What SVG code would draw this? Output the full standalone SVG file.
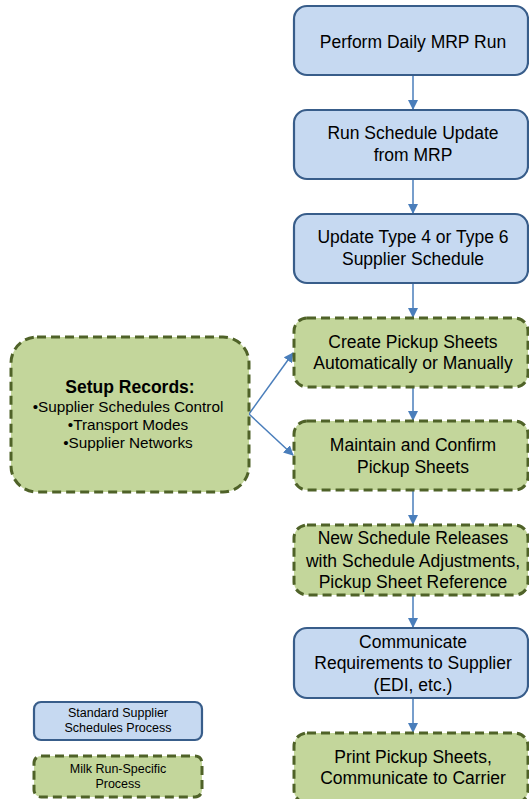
<svg xmlns="http://www.w3.org/2000/svg" width="529" height="799" viewBox="0 0 529 799">
<defs>
<marker id="ah" viewBox="0 0 10 10" refX="9" refY="5" markerWidth="10" markerHeight="10" markerUnits="userSpaceOnUse" orient="auto">
<path d="M0,0 L10,5 L0,10 z" fill="#4a7ebb"/>
</marker>
<style>
.std{fill:#c6d9f1;stroke:#385d8a;stroke-width:2.2}
.milk{fill:#c3d69b;stroke:#4f6228;stroke-width:3;stroke-dasharray:9 5}
.t{font-family:"Liberation Sans",Arial,sans-serif;font-size:17.5px;fill:#000;text-anchor:middle}
.ts{font-family:"Liberation Sans",Arial,sans-serif;font-size:15.3px;fill:#000;text-anchor:middle}
.tl{font-family:"Liberation Sans",Arial,sans-serif;font-size:12.5px;fill:#000;text-anchor:middle}
.c{stroke:#4a7ebb;stroke-width:1.5;fill:none;marker-end:url(#ah)}
</style>
</defs>
<rect width="529" height="799" fill="#fff"/>
<g id="connectors">
<line class="c" x1="413" y1="75" x2="413" y2="109"/>
<line class="c" x1="413" y1="179" x2="413" y2="213"/>
<line class="c" x1="413" y1="283" x2="413" y2="317"/>
<line class="c" x1="413" y1="387" x2="413" y2="420"/>
<line class="c" x1="413" y1="490" x2="413" y2="524"/>
<line class="c" x1="413" y1="595" x2="413" y2="627"/>
<line class="c" x1="413" y1="698" x2="413" y2="732"/>
<line class="c" x1="249" y1="414" x2="293" y2="353"/>
<line class="c" x1="249" y1="414" x2="293" y2="455"/>
</g>
<g id="n1"><rect class="std" x="294" y="6" width="234" height="69" rx="13"/>
<text class="t" x="413" y="48">Perform Daily MRP Run</text></g>
<g id="n2"><rect class="std" x="294" y="110" width="234" height="69" rx="13"/>
<text class="t" x="413" y="139">Run Schedule Update</text><text class="t" x="413" y="161">from MRP</text></g>
<g id="n3"><rect class="std" x="294" y="214" width="234" height="69" rx="13"/>
<text class="t" x="413" y="243">Update Type 4 or Type 6</text><text class="t" x="413" y="265">Supplier Schedule</text></g>
<g id="n4"><rect class="milk" x="294" y="318" width="234" height="69" rx="13"/>
<text class="t" x="413" y="348">Create Pickup Sheets</text><text class="t" x="413" y="369">Automatically or Manually</text></g>
<g id="n5"><rect class="milk" x="294" y="421" width="234" height="69" rx="13"/>
<text class="t" x="413" y="451">Maintain and Confirm</text><text class="t" x="413" y="473">Pickup Sheets</text></g>
<g id="n6"><rect class="milk" x="294" y="525" width="234" height="70" rx="13"/>
<text class="t" x="413" y="544">New Schedule Releases</text><text class="t" x="413" y="567">with Schedule Adjustments,</text><text class="t" x="413" y="588">Pickup Sheet Reference</text></g>
<g id="n7"><rect class="std" x="294" y="628" width="234" height="70" rx="13"/>
<text class="t" x="413" y="648">Communicate</text><text class="t" x="413" y="669">Requirements to Supplier</text><text class="t" x="413" y="691">(EDI, etc.)</text></g>
<g id="n8"><rect class="milk" x="294" y="733" width="234" height="70" rx="13"/>
<text class="t" x="413" y="763">Print Pickup Sheets,</text><text class="t" x="413" y="784">Communicate to Carrier</text></g>
<g id="setup"><rect class="milk" x="11" y="337" width="238" height="155" rx="26"/>
<text class="t" x="130" y="393" font-weight="bold" font-size="17px">Setup Records:</text>
<text class="ts" x="128" y="412">•Supplier Schedules Control</text>
<text class="ts" x="128" y="430">•Transport Modes</text>
<text class="ts" x="128" y="448">•Supplier Networks</text></g>
<g id="legend-std"><rect class="std" x="34" y="702" width="168" height="38" rx="7"/>
<text class="tl" x="118" y="717">Standard Supplier</text><text class="tl" x="118" y="732">Schedules Process</text></g>
<g id="legend-milk"><rect class="milk" x="34" y="756" width="168" height="41" rx="7"/>
<text class="tl" x="118" y="773">Milk Run-Specific</text><text class="tl" x="118" y="788">Process</text></g>
</svg>
